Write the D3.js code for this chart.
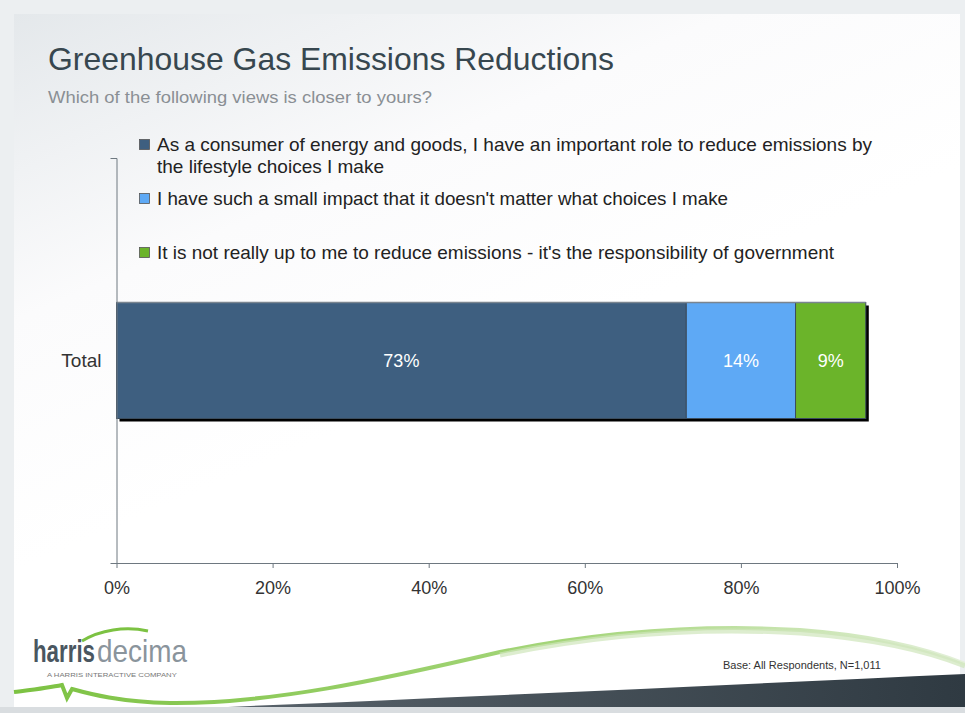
<!DOCTYPE html>
<html><head><meta charset="utf-8">
<script src="https://cdn.jsdelivr.net/npm/d3@7"></script>
<style>body{margin:0;background:#fff;}svg{display:block;font-family:"Liberation Sans",Arial,sans-serif;}</style>
</head><body>
<svg id="c" width="965" height="713"></svg>
<script>
const categories = ["Total"];
const seriesNames = [
  ["As a consumer of energy and goods, I have an important role to reduce emissions by", "the lifestyle choices I make"],
  ["I have such a small impact that it doesn't matter what choices I make"],
  ["It is not really up to me to reduce emissions - it's the responsibility of government"]
];
const seriesValues = [73, 14, 9];
const seriesColors = ["#3e5f80", "#5ea9f5", "#6bb42a"];
const xTicks = [0, 20, 40, 60, 80, 100];

const svg = d3.select("#c");
const defs = svg.append("defs");
const bg = defs.append("linearGradient").attr("id","bg").attr("x1","0").attr("y1","0").attr("x2","0.35").attr("y2","0.6");
bg.append("stop").attr("offset","0").attr("stop-color","#e4e8eb");
bg.append("stop").attr("offset","0.55").attr("stop-color","#fbfbfc");
bg.append("stop").attr("offset","1").attr("stop-color","#ffffff");
const dk = defs.append("linearGradient").attr("id","dk").attr("x1","0").attr("y1","0").attr("x2","1").attr("y2","0");
dk.append("stop").attr("offset","0").attr("stop-color","#5a646c");
dk.append("stop").attr("offset","1").attr("stop-color","#2f3a42");
const gr = defs.append("linearGradient").attr("id","gr").attr("x1","0").attr("y1","0").attr("x2","1").attr("y2","0");
gr.append("stop").attr("offset","0").attr("stop-color","#7cc242");
gr.append("stop").attr("offset","0.6").attr("stop-color","#a6d67c");
gr.append("stop").attr("offset","1").attr("stop-color","#e4f0da");

// frame
svg.append("rect").attr("width",965).attr("height",713).attr("fill","#eceff1");
svg.append("rect").attr("x",14).attr("y",14).attr("width",946).attr("height",693).attr("fill","url(#bg)");

// bottom decoration
svg.append("path").attr("d","M200,708 C450,698 700,686 965,674 L965,713 L200,713 Z").attr("fill","url(#dk)");
svg.append("rect").attr("x",0).attr("y",707).attr("width",965).attr("height",6).attr("fill","#d9dde0");
svg.append("path").attr("d","M14,692 C30,690 48,688 62,685 L67,698 L72,689 C90,694 120,702 170,703 C270,704 380,680 500,652 C600,632 700,624 800,630 C880,636 930,650 965,664")
  .attr("fill","none").attr("stroke","url(#gr)").attr("stroke-width",4);
svg.append("path").attr("d","M500,655 C600,634 700,627 800,633 C880,639 930,652 965,666")
  .attr("fill","none").attr("stroke","#cfe6bb").attr("stroke-width",5).attr("opacity",0.7);

// logo (scaled to fit width so that bounding boxes are exact)
function fitText(txt, x0, base, w, size, fill, weight, family){
  const t = svg.append("text").attr("x",0).attr("y",0).attr("font-size",size).attr("fill",fill)
    .attr("font-weight",weight||"normal").attr("font-family",family||null).text(txt);
  const nat = t.node().getComputedTextLength();
  t.attr("transform",`translate(${x0},${base}) scale(${w/nat},1)`);
  return t;
}
svg.append("path").attr("d","M82,641 C100,630 125,626 148,631").attr("fill","none").attr("stroke","#7cc242").attr("stroke-width",3);
fitText("harris", 33, 662, 62, 32, "#4a5660", "bold", "Liberation Sans Narrow, Liberation Sans, sans-serif");
fitText("decima", 97, 662, 90, 32, "#8a949c", "normal", "Liberation Sans Narrow, Liberation Sans, sans-serif");
fitText("A HARRIS INTERACTIVE COMPANY", 47, 677, 130, 5, "#777", "normal");

// titles
svg.append("text").attr("x",48).attr("y",70).attr("font-size",32).attr("fill","#37474f").attr("textLength",566).attr("lengthAdjust","spacingAndGlyphs").text("Greenhouse Gas Emissions Reductions");
svg.append("text").attr("x",48).attr("y",103).attr("font-size",16.5).attr("fill","#8a8f94").attr("textLength",384).attr("lengthAdjust","spacingAndGlyphs").text("Which of the following views is closer to yours?");
svg.append("text").attr("x",723).attr("y",669).attr("font-size",11).attr("fill","#333").text("Base: All Respondents, N=1,011");

// scales
const x = d3.scaleLinear().domain([0,100]).range([116.5,897]);
const y = d3.scaleBand().domain(categories).range([158,563]).padding(0.5547);

// legend
const legY = [151, 205, 259];
const legLen = [[715, 227], [571], [677]];
seriesNames.forEach((lines,i)=>{
  const g = svg.append("g");
  g.append("rect").attr("x",139.5).attr("y",legY[i]-11.5).attr("width",10).attr("height",10).attr("fill",seriesColors[i]).attr("stroke","#555").attr("stroke-width",0.8);
  lines.forEach((t,j)=>{
    g.append("text").attr("x",157).attr("y",legY[i]+j*22).attr("font-size",18.5).attr("fill","#222")
      .attr("textLength",legLen[i][j]).attr("lengthAdjust","spacingAndGlyphs").text(t);
  });
});

// stacked data
const rows = categories.map(c=>{const o={cat:c}; seriesValues.forEach((v,i)=>o["s"+i]=v); return o;});
const stack = d3.stack().keys(seriesValues.map((v,i)=>"s"+i))(rows);

// shadow
const total = d3.sum(seriesValues);
categories.forEach(c=>{
  svg.append("rect").attr("x",x(0)+3).attr("y",y(c)+3).attr("width",x(total)-x(0)).attr("height",y.bandwidth()).attr("fill","#000");
});

stack.forEach((layer,i)=>{
  svg.selectAll(null).data(layer).enter().append("rect")
    .attr("x",d=>x(d[0])).attr("y",d=>y(d.data.cat))
    .attr("width",d=>x(d[1])-x(d[0])).attr("height",y.bandwidth())
    .attr("fill",seriesColors[i]).attr("stroke","#3b4d5e").attr("stroke-width",1);
  svg.selectAll(null).data(layer).enter().append("text")
    .attr("x",d=>(x(d[0])+x(d[1]))/2).attr("y",d=>y(d.data.cat)+y.bandwidth()/2+6.5)
    .attr("text-anchor","middle").attr("font-size",18).attr("fill","#fff")
    .text(d=>(d[1]-d[0])+"%");
});
svg.append("line").attr("x1",x(0)).attr("x2",x(total)).attr("y1",y("Total")).attr("y2",y("Total")).attr("stroke","#7a8590").attr("stroke-width",1.5);

// axes
const ya = svg.append("g").attr("transform",`translate(${x(0)},0)`).call(d3.axisLeft(y).tickSize(0).tickSizeOuter(6).tickPadding(15));
ya.select(".domain").attr("stroke","#6e7880");
ya.selectAll("text").attr("font-size",19).attr("fill","#333").attr("font-family","Liberation Sans, Arial, sans-serif");
const xa = svg.append("g").attr("transform","translate(0,563)").call(d3.axisBottom(x).tickValues(xTicks).tickFormat(d=>d+"%").tickSize(5).tickSizeOuter(0).tickPadding(13));
xa.select(".domain").attr("stroke","#6e7880");
xa.selectAll(".tick line").attr("stroke","#6e7880");
xa.selectAll("text").attr("font-size",18).attr("fill","#333").attr("font-family","Liberation Sans, Arial, sans-serif");
</script>
</body></html>
